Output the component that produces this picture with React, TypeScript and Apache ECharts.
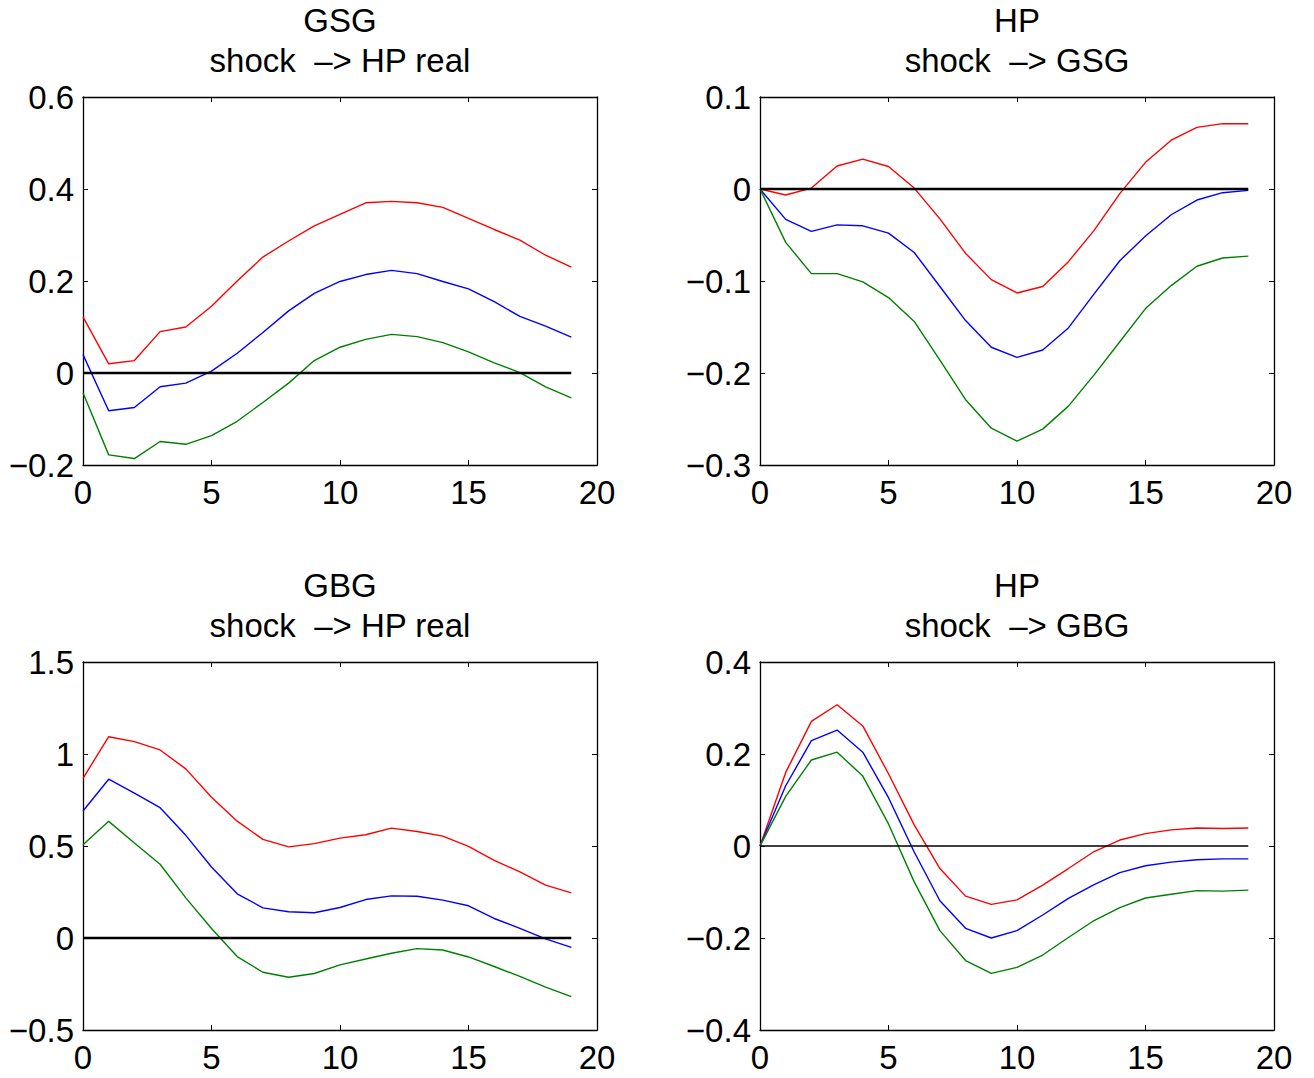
import React, { useEffect, useRef } from "react";
import * as echarts from "echarts";

const horizons = [0, 1, 2, 3, 4, 5, 6, 7, 8, 9, 10, 11, 12, 13, 14, 15, 16, 17, 18, 19];
const zeroLine = [0, 0, 0, 0, 0, 0, 0, 0, 0, 0, 0, 0, 0, 0, 0, 0, 0, 0, 0, 0];

// Panel 1: GSG shock -> HP real
const p1Upper = [0.122, 0.02, 0.027, 0.09, 0.1, 0.145, 0.2, 0.252, 0.287, 0.32, 0.345, 0.37, 0.373, 0.37, 0.36, 0.336, 0.312, 0.289, 0.256, 0.23];
const p1Mid = [0.04, -0.082, -0.075, -0.03, -0.022, 0.004, 0.043, 0.088, 0.135, 0.173, 0.199, 0.214, 0.223, 0.216, 0.199, 0.183, 0.155, 0.123, 0.102, 0.078];
const p1Lower = [-0.043, -0.178, -0.186, -0.149, -0.155, -0.136, -0.105, -0.064, -0.022, 0.027, 0.056, 0.073, 0.084, 0.079, 0.066, 0.046, 0.022, 0.001, -0.03, -0.054];

// Panel 2: HP shock -> GSG
const p2Upper = [0, -0.0065, 0.001, 0.025, 0.0325, 0.0245, 0.001, -0.0325, -0.07, -0.0985, -0.113, -0.106, -0.079, -0.045, -0.005, 0.029, 0.053, 0.067, 0.071, 0.071];
const p2Mid = [0, -0.033, -0.046, -0.039, -0.04, -0.048, -0.069, -0.106, -0.143, -0.172, -0.183, -0.175, -0.151, -0.114, -0.078, -0.051, -0.028, -0.012, -0.004, -0.0015];
const p2Lower = [0, -0.058, -0.092, -0.092, -0.101, -0.118, -0.144, -0.186, -0.229, -0.26, -0.274, -0.261, -0.236, -0.202, -0.166, -0.13, -0.105, -0.084, -0.075, -0.073];

// Panel 3: GBG shock -> HP real
const p3Upper = [0.868, 1.094, 1.067, 1.022, 0.919, 0.765, 0.635, 0.536, 0.495, 0.513, 0.543, 0.561, 0.597, 0.579, 0.554, 0.498, 0.422, 0.359, 0.287, 0.245];
const p3Mid = [0.69, 0.863, 0.787, 0.708, 0.558, 0.386, 0.24, 0.164, 0.143, 0.137, 0.166, 0.209, 0.229, 0.227, 0.206, 0.175, 0.106, 0.052, -0.005, -0.051];
const p3Lower = [0.507, 0.634, 0.516, 0.401, 0.218, 0.052, -0.101, -0.186, -0.213, -0.193, -0.146, -0.114, -0.083, -0.058, -0.065, -0.103, -0.155, -0.209, -0.267, -0.319];

// Panel 4: HP shock -> GBG
const p4Upper = [0, 0.16, 0.271, 0.307, 0.261, 0.157, 0.046, -0.049, -0.109, -0.127, -0.117, -0.085, -0.049, -0.012, 0.013, 0.027, 0.035, 0.039, 0.038, 0.039];
const p4Mid = [0, 0.131, 0.229, 0.252, 0.204, 0.105, -0.013, -0.119, -0.179, -0.2, -0.184, -0.15, -0.114, -0.084, -0.058, -0.043, -0.035, -0.03, -0.028, -0.028];
const p4Lower = [0, 0.108, 0.187, 0.204, 0.152, 0.048, -0.078, -0.184, -0.249, -0.277, -0.264, -0.237, -0.199, -0.162, -0.134, -0.113, -0.105, -0.097, -0.098, -0.096];

const titlesTop = ["GSG", "HP", "GBG", "HP"];
const titlesBottom = ["shock  \u2013> HP real", "shock  \u2013> GSG", "shock  \u2013> HP real", "shock  \u2013> GBG"];
const yMins = [-0.2, -0.3, -0.5, -0.4];
const yMaxs = [0.6, 0.1, 1.5, 0.4];
const yIntervals = [0.2, 0.1, 0.5, 0.2];
const xMin = 0;
const xMax = 20;
const xInterval = 5;

const panelData = [
  [p1Upper, p1Mid, p1Lower],
  [p2Upper, p2Mid, p2Lower],
  [p3Upper, p3Mid, p3Lower],
  [p4Upper, p4Mid, p4Lower],
];

const FONT = "'Liberation Sans', Arial, Helvetica, sans-serif";
const FS = 33;

function fmt(v: number): string {
  const r = Math.round(v * 1000) / 1000;
  if (r === 0) return "0";
  const s = String(Math.abs(r));
  return r < 0 ? "\u2212" + s : s;
}

export default function App() {
  const ref = useRef<HTMLDivElement>(null);
  useEffect(() => {
    if (!ref.current) return;
    const chart = echarts.init(ref.current, null, { renderer: "svg" });

    const grids = [
      { left: 83, top: 97, width: 514, height: 368 },
      { left: 760, top: 97, width: 514, height: 368 },
      { left: 83, top: 662, width: 514, height: 368 },
      { left: 760, top: 662, width: 514, height: 368 },
    ];
    const colors = ["#ff0000", "#0000ff", "#008000"];
    const xAxes: any[] = [];
    const yAxes: any[] = [];
    const series: any[] = [];
    const graphics: any[] = [];

    grids.forEach((g, i) => {
      const axisLine = { show: true, onZero: false, lineStyle: { color: "#000", width: 1.3 } };
      const tick = { show: true, inside: true, length: 5, lineStyle: { color: "#000", width: 1 } };
      xAxes.push({
        type: "value", gridIndex: i, min: xMin, max: xMax, interval: xInterval, position: "bottom",
        axisLine, axisTick: tick, splitLine: { show: false },
        axisLabel: { show: true, color: "#000", fontSize: FS, fontFamily: FONT, margin: 11 },
      });
      xAxes.push({
        type: "value", gridIndex: i, min: xMin, max: xMax, interval: xInterval, position: "top",
        axisLine, axisTick: tick, splitLine: { show: false }, axisLabel: { show: false },
      });
      yAxes.push({
        type: "value", gridIndex: i, min: yMins[i], max: yMaxs[i], interval: yIntervals[i], position: "left",
        axisLine, axisTick: tick, splitLine: { show: false },
        axisLabel: { show: true, color: "#000", fontSize: FS, fontFamily: FONT, margin: 9, formatter: fmt },
      });
      yAxes.push({
        type: "value", gridIndex: i, min: yMins[i], max: yMaxs[i], interval: yIntervals[i], position: "right",
        axisLine, axisTick: tick, splitLine: { show: false }, axisLabel: { show: false },
      });
      panelData[i].forEach((arr, k) => {
        series.push({
          type: "line", xAxisIndex: i * 2, yAxisIndex: i * 2, showSymbol: false, symbol: "none",
          lineStyle: { color: colors[k], width: 1.4 }, silent: true,
          data: horizons.map((h, j) => [h, arr[j]]),
        });
      });
      series.push({
        type: "line", xAxisIndex: i * 2, yAxisIndex: i * 2, showSymbol: false, symbol: "none",
        lineStyle: { color: "#000", width: i === 3 ? 1.5 : 2.4 }, silent: true,
        data: horizons.map((h, j) => [h, zeroLine[j]]),
      });
      const cx = g.left + g.width / 2;
      graphics.push({
        type: "text", x: cx, y: g.top - 77,
        style: { text: titlesTop[i], fill: "#000", fontSize: FS, fontFamily: FONT, textAlign: "center", textVerticalAlign: "middle" },
      });
      graphics.push({
        type: "text", x: cx, y: g.top - 37,
        style: { text: titlesBottom[i], fill: "#000", fontSize: FS, fontFamily: FONT, textAlign: "center", textVerticalAlign: "middle" },
      });
    });

    chart.setOption({
      animation: false,
      backgroundColor: "#fff",
      grid: grids,
      xAxis: xAxes,
      yAxis: yAxes,
      series,
      graphic: graphics,
    });
    return () => chart.dispose();
  }, []);
  return <div ref={ref} style={{ width: 1314, height: 1078, position: "absolute", left: 0, top: 0 }} />;
}
